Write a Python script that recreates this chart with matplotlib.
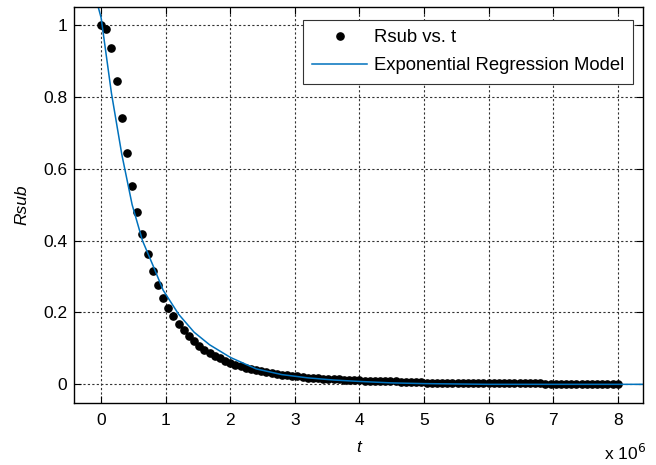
import matplotlib
matplotlib.use('Agg')
import matplotlib.pyplot as plt
import numpy as np
from matplotlib.ticker import FuncFormatter

plt.rcParams['font.family'] = ['Liberation Sans', 'DejaVu Sans']

# measured data: time grid (s) and Rsub
t = np.linspace(0, 8e6, 101)
rsub = [1.000, 0.990, 0.935, 0.843, 0.741, 0.644, 0.553, 0.480, 0.417, 0.362,
        0.315, 0.276, 0.241, 0.213, 0.189, 0.168, 0.150, 0.134, 0.120, 0.107,
        0.096, 0.087, 0.079, 0.072, 0.066, 0.060, 0.055, 0.050, 0.046, 0.042,
        0.039, 0.036, 0.033, 0.031, 0.029, 0.027, 0.025, 0.023, 0.022, 0.021,
        0.019, 0.018, 0.017, 0.016, 0.015, 0.014, 0.014, 0.013, 0.012, 0.012,
        0.011,
        0.010, 0.010, 0.009, 0.009, 0.008, 0.008, 0.008, 0.007, 0.007, 0.006,
        0.006, 0.006,
        0.005, 0.005, 0.005, 0.004, 0.004, 0.004, 0.004, 0.004, 0.003, 0.003,
        0.003, 0.003, 0.003, 0.003, 0.003, 0.003, 0.003, 0.003, 0.003, 0.003,
        0.003, 0.003, 0.003,
        0.000, 0.000, 0.000, 0.000, 0.000, 0.000, 0.000, 0.000, 0.000, 0.000,
        0.000, 0.000, 0.000, 0.000, 0.000]

# regression curve as drawn
t_fit = np.array([-0.06, 0, 0.16, 0.32, 0.48, 0.64, 0.8, 0.96, 1.2, 1.44, 1.68,
                  2.0, 2.4, 2.8, 3.2, 3.6, 4.0, 4.5, 5.0, 6.0, 7.0, 8.0, 8.4]) * 1e6
r_fit = [1.06, 1.02, 0.81, 0.64, 0.50, 0.40, 0.332, 0.262, 0.195, 0.145, 0.110,
         0.075, 0.043, 0.027, 0.018, 0.012, 0.008, 0.004, 0.002, 0.0, 0.0, 0.0, 0.0]

xticks = [0, 1, 2, 3, 4, 5, 6, 7, 8]
yticks = [0, 0.2, 0.4, 0.6, 0.8, 1]

fig = plt.figure(figsize=(6.56, 4.65), dpi=100)
ax = fig.add_axes([0.1128, 0.1333, 0.8674, 0.8516])

ax.plot(t, rsub, 'o', color='black', markersize=5.2, label='Rsub vs. t')
ax.plot(t_fit, r_fit, color='#0072BD', lw=1.1, label='Exponential Regression Model')

ax.set_xlim(-0.42e6, 8.39e6)
ax.set_ylim(-0.052, 1.05)
ax.set_xticks([x * 1e6 for x in xticks])
ax.xaxis.set_major_formatter(FuncFormatter(lambda v, p: '%g' % (v / 1e6)))
ax.set_yticks(yticks)
ax.yaxis.set_major_formatter(FuncFormatter(lambda v, p: '%g' % v))
ax.tick_params(direction='in', top=True, right=True, labelsize=12.5, length=5)
ax.tick_params(axis='x', pad=7)
ax.tick_params(axis='y', pad=5)
ax.grid(True, color='0.2', linestyle=(0, (2, 2)), linewidth=0.8)
for s in ax.spines.values():
    s.set_linewidth(1.0)

ax.set_xlabel('t', fontstyle='italic', fontsize=12.5, labelpad=9)
ax.set_ylabel('Rsub', fontstyle='italic', fontsize=12.5, labelpad=10)
fig.text(0.985, 0.004, 'x 10$^6$', ha='right', va='bottom', fontsize=12.5)

leg = ax.legend(loc='upper right', bbox_to_anchor=(0.983, 0.967), borderaxespad=0,
                fontsize=13.3, fancybox=False, framealpha=1, edgecolor='0.2',
                handlelength=3.0, handletextpad=0.35, labelspacing=0.6,
                borderpad=0.5)
leg.get_frame().set_linewidth(0.8)

fig.savefig('out.png', dpi=100)
